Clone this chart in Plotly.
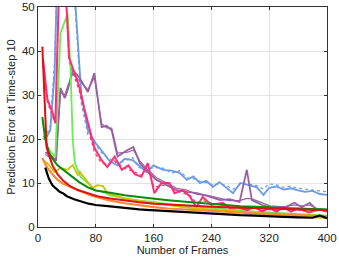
import plotly.graph_objects as go

# ---------------- data ----------------
black_x = [10, 15, 20, 25, 30, 35, 40, 50, 60, 70, 80, 90, 100, 110, 120, 130, 140, 150, 160, 180, 200, 220, 240, 260, 280, 300, 320, 340, 360, 380, 390, 400]
black_y = [13.5, 11, 9.5, 8.8, 8, 7.6, 7, 6.3, 5.8, 5.3, 5.0, 4.9, 4.7, 4.5, 4.3, 4.2, 4.0, 3.9, 3.8, 3.6, 3.4, 3.2, 3.0, 2.9, 2.7, 2.6, 2.4, 2.3, 2.2, 2.1, 2.6, 2.0]

red_x = [6, 9, 12, 16, 20, 27, 35, 45, 55, 69, 82, 100, 120, 140, 160, 180, 200, 220, 240, 260, 280, 300, 320, 340, 360, 380, 400]
red_y = [41, 30, 18, 16, 14, 12, 10.5, 9.2, 8.4, 7.7, 7.0, 6.5, 6.0, 5.6, 5.3, 5.1, 4.9, 4.8, 4.6, 4.5, 4.4, 4.3, 4.2, 4.1, 4.0, 3.9, 3.8]

dgreen_x = [6, 10, 15, 20, 27, 35, 45, 57, 69, 80, 100, 120, 140, 160, 180, 200, 220, 240, 260, 280, 300, 320, 340, 360, 380, 400]
dgreen_y = [25, 20, 17, 15.5, 14, 13, 11.8, 10.2, 9.0, 8.3, 7.8, 7.2, 6.8, 6.4, 6.1, 5.8, 5.5, 5.2, 4.9, 4.7, 4.6, 4.4, 4.3, 4.2, 4.1, 4.0]

orange_x = [6, 13, 20, 27, 35, 45, 55, 64, 72, 82, 100, 120, 140, 160, 180, 200, 220, 240, 260, 280, 300, 320, 340, 360, 380, 400]
orange_y = [15.7, 13.4, 12, 10.7, 9.8, 9.1, 8.3, 7.7, 7.2, 6.8, 6.0, 5.4, 4.9, 4.5, 4.2, 4.0, 3.9, 3.7, 3.5, 3.3, 3.1, 3.0, 2.8, 2.7, 2.6, 2.5]

yellow_x = [8, 13, 23, 31, 41, 48, 55, 58, 69, 76, 82, 90, 96, 110, 120, 140, 160, 180, 200, 220, 240, 260, 280, 300, 320, 340, 360, 380, 400]
yellow_y = [15, 14.5, 12.5, 13.4, 13, 14.1, 11.8, 12.5, 10.2, 8.9, 9.5, 9.3, 7.7, 7.0, 6.5, 6.0, 5.5, 5.0, 4.5, 4.2, 4.0, 3.7, 3.5, 3.2, 3.0, 2.7, 2.5, 2.2, 2.0]

lgreen_x = [10, 18, 24, 31, 41, 45, 48, 51, 59, 69, 78, 90, 100, 120, 140, 160, 180, 200, 220, 240, 260, 280, 300, 320, 340, 360, 380, 400]
lgreen_y = [19, 17, 16, 44, 48.5, 36, 20, 14.5, 11.4, 10, 8.4, 8.0, 7.2, 6.5, 6.0, 5.7, 5.2, 4.9, 4.6, 4.3, 4.0, 3.7, 3.5, 3.3, 3.1, 2.9, 2.7, 2.6]

blue_x = [7, 12, 17, 23, 27, 45, 52, 60, 69, 80, 90, 99, 110, 120, 131, 140, 150, 160, 173, 185, 196, 206, 215, 224, 233, 242, 251, 260, 270, 280, 290, 303, 312, 320, 330, 340, 350, 360, 370, 380, 390, 400]
blue_y = [20, 20.5, 22, 35, 60, 70, 50, 30, 22, 19, 17, 15, 14, 15.5, 15.2, 14, 12.5, 14, 13, 12.8, 12.3, 10.7, 11.5, 10, 10.5, 9.1, 10.2, 9, 7.7, 10, 9.5, 9, 7.3, 8.9, 9.2, 8.5, 8.8, 8.3, 8.0, 8.2, 7.5, 7.3]
blue2_y = [20.5, 21, 23, 38, 62, 68, 48, 28, 21, 18.5, 16.5, 15.5, 14.5, 15, 15.8, 13.5, 13, 13.5, 13.4, 12.2, 12.8, 11.2, 11, 10.4, 10.1, 9.6, 9.8, 9.5, 8.6, 9.6, 9.8, 9.4, 8.6, 9.8, 9.6, 9.0, 9.3, 8.8, 8.6, 8.5, 8.2, 8.0]

pink_x = [7, 10, 13, 20, 24, 30, 38, 43, 50, 57, 64, 71, 78, 88, 96, 106, 116, 125, 134, 143, 152, 161, 171, 182, 189, 200, 210, 219, 228, 240, 256, 265, 275, 290, 300, 310, 320, 330, 340, 350, 360, 375, 390, 400]
pink_y = [38, 33, 29, 26, 23.6, 60, 55, 38.5, 35, 32, 27, 22.7, 18, 15.2, 13.6, 16, 13, 14, 12, 11.4, 14.5, 7.7, 10, 10, 7.7, 8.4, 7, 4.5, 6.8, 5, 5.5, 4.3, 4.5, 3.8, 4.6, 3.5, 4.3, 3.5, 4.5, 3.5, 4.2, 3.3, 4.0, 3.5]
pink2_y = [37, 32, 28.5, 25, 24, 58, 54, 37.5, 34, 31, 26, 21.5, 17, 14.5, 14.2, 15, 13.8, 13, 12.5, 11.8, 13, 9, 9.5, 9.2, 8.2, 7.8, 7.2, 5.5, 6.0, 5.4, 5.0, 4.6, 4.2, 4.2, 4.3, 3.8, 4.0, 3.8, 4.1, 3.8, 3.9, 3.6, 3.8, 3.6]

purple_x = [10, 20, 25, 31, 37, 41, 48, 57, 69, 78, 88, 95, 102, 110, 124, 132, 141, 152, 164, 178, 192, 206, 220, 235, 252, 265, 279, 289, 296, 310, 321, 340, 355, 365, 376, 386, 400]
purple_y = [17, 16, 15, 31.6, 29.3, 31, 35.7, 34, 30.7, 35, 22.7, 23, 22, 16, 17.5, 18.2, 14.5, 12.5, 10.7, 9.5, 8.4, 8.0, 7.7, 7.0, 6.1, 6.3, 5.7, 13, 6.1, 5.0, 4.5, 4.3, 5.5, 4.5, 5.5, 3.9, 3.9]
purple2_y = [16.5, 15.5, 15.5, 30.5, 30, 32, 34.8, 33.2, 31.2, 34, 23.5, 22.5, 22.5, 16.8, 17, 17.5, 15, 13, 11.2, 10, 8.8, 8.4, 7.4, 7.2, 6.5, 6.0, 6.0, 6.5, 6.4, 5.4, 4.8, 4.6, 5.0, 4.8, 5.0, 4.2, 4.0]

x_ticks = [0, 80, 160, 240, 320, 400]
y_ticks = [0, 10, 20, 30, 40, 50]

# ---------------- figure ----------------
fig = go.Figure()

def add(x, y, color, width=2.0, dash="solid"):
    fig.add_trace(go.Scatter(x=x, y=y, mode="lines",
                             line=dict(color=color, width=width, dash=dash),
                             showlegend=False, hoverinfo="skip"))

add(blue_x, blue2_y, "#6a9be8", 1.2, "dot")
add(pink_x, pink2_y, "#ff2e74", 1.2, "dot")
add(purple_x, purple2_y, "#9a5fa0", 1.2, "solid")
add(blue_x, blue_y, "#6a9be8", 1.8)
add(purple_x, purple_y, "#9a5fa0", 1.8)
add(lgreen_x, lgreen_y, "#66ee55", 1.8)
add(pink_x, pink_y, "#ff2e74", 2.0)
add(yellow_x, yellow_y, "#ccc200", 1.8)
add(orange_x, orange_y, "#ff8833", 2.2)
add(dgreen_x, dgreen_y, "#0c8a0c", 2.0)
add(red_x, red_y, "#e01010", 2.0)
add(black_x, black_y, "#000000", 2.2)

FONT = "Liberation Sans, Arial, sans-serif"
axis_common = dict(
    showline=True, linecolor="#333333", linewidth=1, mirror="ticks",
    ticks="inside", ticklen=3, tickcolor="#333333",
    showgrid=True, gridcolor="#e3e3e3", gridwidth=1, zeroline=False,
    automargin=False,
    tickfont=dict(family=FONT, size=11.5, color="#222222"),
)

fig.update_xaxes(range=[0, 400], tickvals=x_ticks,
                 title=dict(text="Number of Frames", standoff=2,
                            font=dict(family=FONT, size=11, color="#222222")),
                 **axis_common)
fig.update_yaxes(range=[0, 50], tickvals=y_ticks,
                 title=dict(text="Prediction Error at Time-step 10", standoff=4,
                            font=dict(family=FONT, size=11, color="#222222")),
                 **axis_common)

fig.update_layout(width=339, height=263,
                  margin=dict(l=38, r=12, t=7, b=36),
                  paper_bgcolor="white", plot_bgcolor="white")

fig.write_html("out.html",
               config={"displayModeBar": False, "staticPlot": True},
               post_script="document.body.style.margin='0';document.body.style.padding='0';document.body.style.overflow='hidden';")
